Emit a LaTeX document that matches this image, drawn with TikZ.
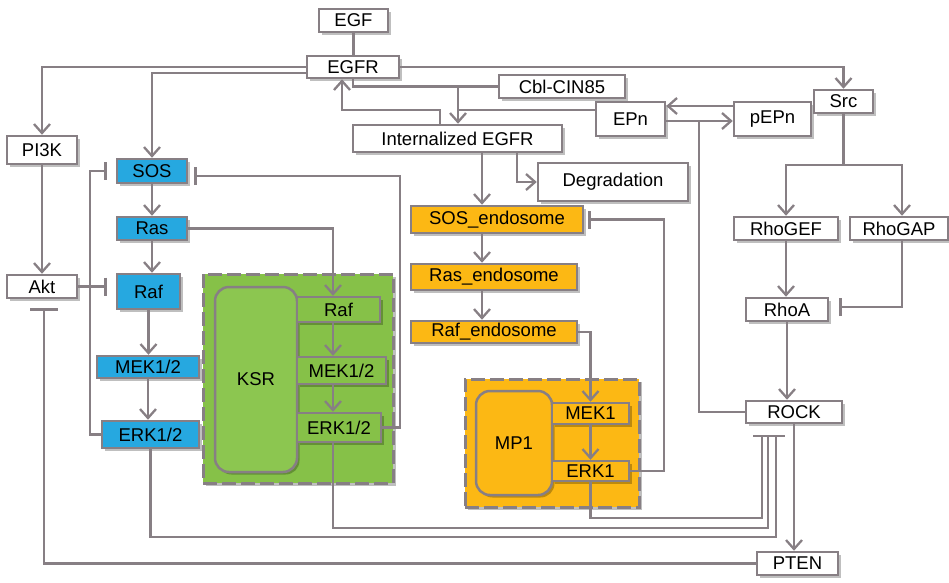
\documentclass[tikz,border=0pt]{standalone}
\usepackage{fontspec}
\setmainfont{Liberation Sans}
\usetikzlibrary{arrows.meta,shadows}
\definecolor{ln}{RGB}{135,127,132}
\definecolor{bl}{RGB}{38,168,224}
\definecolor{gr}{RGB}{134,193,72}
\definecolor{grk}{RGB}{140,198,80}
\definecolor{og}{RGB}{252,184,20}
\begin{document}
\begin{tikzpicture}[x=1pt,y=-1pt,
  shd/.style={drop shadow={shadow xshift=2.5pt,shadow yshift=-2.5pt,opacity=0.25,fill=black}},
  bx/.style={draw=ln,line width=2.5pt,inner sep=0pt,shd,font=\fontsize{18.5}{20}\selectfont},
  wbox/.style={bx,fill=white},
  bbox/.style={bx,fill=bl},
  gbox/.style={bx,fill=gr},
  obox/.style={bx,fill=og},
  cont/.style={draw=ln,line width=3pt,dash pattern=on 14pt off 5pt,inner sep=0pt,shd},
  lnk/.style={draw=ln,line width=2.3pt},
  arr/.style={lnk,-{Straight Barb[length=9pt,width=16pt,line width=2.3pt]}},
  inh/.style={lnk,-{Bar[width=18pt,line width=2.3pt]}},
  inhw/.style={lnk,-{Bar[width=28pt,line width=2.3pt]}}]
\useasboundingbox (0,0) rectangle (949,582);

% containers
\node[cont,fill=gr,minimum width=190pt,minimum height=209pt] (gcont) at (298,378.5) {};
\node[cont,fill=og,minimum width=174pt,minimum height=128pt] (ocont) at (552,443) {};

% top
\node[wbox,minimum width=69pt,minimum height=23pt] (EGF) at (353.5,20.5) {EGF};
\node[wbox,minimum width=92pt,minimum height=22pt] (EGFR) at (353,67) {EGFR};
\node[wbox,minimum width=70pt,minimum height=28pt] (PI3K) at (42,150) {PI3K};
\node[wbox,minimum width=70pt,minimum height=23pt] (Akt) at (42,286.5) {Akt};

% blue cascade
\node[bbox,minimum width=70pt,minimum height=24pt] (SOS) at (152,171) {SOS};
\node[bbox,minimum width=70pt,minimum height=23pt] (Ras) at (152,228.5) {Ras};
\node[bbox,minimum width=63pt,minimum height=35pt] (Raf) at (148.5,291.5) {Raf};
\node[bbox,minimum width=102pt,minimum height=22pt] (MEK) at (148,367) {MEK1/2};
\node[bbox,minimum width=97pt,minimum height=27pt] (ERK) at (150.5,434.5) {ERK1/2};

% green KSR
\node[gbox,fill=grk,rounded corners=14pt,minimum width=82pt,minimum height=185pt] (KSR) at (256,379.5) {KSR};
\node[gbox,minimum width=83pt,minimum height=25pt] (gRaf) at (338.5,309.5) {Raf};
\node[gbox,minimum width=89pt,minimum height=27pt] (gMEK) at (341.5,370.5) {MEK1/2};
\node[gbox,minimum width=84pt,minimum height=29pt] (gERK) at (339,427.5) {ERK1/2};

% middle
\node[wbox,minimum width=209pt,minimum height=27pt] (IntEGFR) at (457.5,138.5) {Internalized EGFR};
\node[wbox,minimum width=126pt,minimum height=23pt] (Cbl) at (562,86.5) {Cbl-CIN85};
\node[wbox,minimum width=69pt,minimum height=34pt] (EPn) at (630.5,119) {EPn};
\node[wbox,minimum width=77pt,minimum height=34pt] (pEPn) at (772.5,119) {pEPn};
\node[wbox,minimum width=59pt,minimum height=23pt] (Src) at (843.5,101.5) {Src};
\node[wbox,minimum width=150pt,minimum height=38pt] (Degr) at (613,182) {Degradation};
\node[obox,minimum width=172pt,minimum height=27pt] (SOSe) at (497,219.5) {SOS\_endosome};
\node[obox,minimum width=166pt,minimum height=26pt] (Rase) at (494,277) {Ras\_endosome};
\node[obox,minimum width=166pt,minimum height=22pt] (Rafe) at (494,332) {Raf\_endosome};

% orange MP1
\node[obox,rounded corners=14pt,minimum width=76pt,minimum height=104pt] (MP1) at (514,443) {MP1};
\node[obox,minimum width=77pt,minimum height=21pt] (MEK1) at (590.5,413.5) {MEK1};
\node[obox,minimum width=77pt,minimum height=20pt] (ERK1) at (590.5,471) {ERK1};

% right
\node[wbox,minimum width=104pt,minimum height=23pt] (RhoGEF) at (786,228.5) {RhoGEF};
\node[wbox,minimum width=98pt,minimum height=23pt] (RhoGAP) at (899,228.5) {RhoGAP};
\node[wbox,minimum width=82pt,minimum height=23pt] (RhoA) at (787,309.5) {RhoA};
\node[wbox,minimum width=96pt,minimum height=22pt] (ROCK) at (794,412) {ROCK};
\node[wbox,minimum width=81pt,minimum height=23pt] (PTEN) at (797.5,563.5) {PTEN};

% helper coordinates
\coordinate (j1) at (458,86.5);
\coordinate (j2) at (458,110);
\coordinate (r1) at (440,110);
\coordinate (r2) at (342,110);
\coordinate (cE) at (482,0);
\coordinate (cD) at (517,0);
\coordinate (cG) at (333,0);
\coordinate (c664) at (664,219.5);
\coordinate (b1) at (762,435);
\coordinate (b2) at (768,435);
\coordinate (b3) at (776,435);
\coordinate (s1) at (843.5,165);
\coordinate (gp) at (902,0);
\coordinate (p1) at (699,121);
\coordinate (q1) at (400,176);
\coordinate (q2) at (90,171);

% EGFR connections
\draw[lnk] (EGF.south) -- (EGF.south |- EGFR.north);
\draw[arr] (EGFR.west) -| (PI3K.north);
\draw[arr] ([yshift=-6pt]EGFR.west) -| (SOS.north);
\draw[arr] (EGFR.east) -| (Src.north);
\draw[lnk] (EGFR.south) |- (Cbl.west);
\draw[arr] (j1) -- (j1 |- IntEGFR.north);
\draw[lnk] ([yshift=9pt]EPn.west) -- (j2);
\draw[arr] (r1 |- IntEGFR.north) -- (r1) -- (r2) -- (r2 |- EGFR.south);

% endosome cascade
\draw[arr] (IntEGFR.south -| cE) -- (SOSe.north -| cE);
\draw[arr] (IntEGFR.south -| cD) |- (Degr.west);
\draw[arr] (SOSe.south -| cE) -- (Rase.north -| cE);
\draw[arr] (Rase.south -| cE) -- (Rafe.north -| cE);
\draw[arr] (Rafe.east) -| (MEK1.north);
\draw[arr] (MEK1.south) -- (ERK1.north);
\draw[inh] (ERK1.east) -| (c664) -- ([xshift=4pt]SOSe.east);

% ERK inhibitions of ROCK
\draw[inh] (ERK1.south) -- ++(0,36) -| (b1);
\draw[inh] (gERK.south -| cG) -- ++(0,85) -| (b2);
\draw[inh] (ERK.south) -- ++(0,88) -| (b3);

% ROCK, PTEN
\draw[arr] (ROCK.south) -- (ROCK.south |- PTEN.north);
\draw[inhw] (PTEN.west) -| ([xshift=2pt,yshift=-9pt]Akt.south);
\draw[lnk] (ROCK.west) -| (p1);

% Src branch
\draw[lnk] (Src.south) -- (s1);
\draw[arr] (s1) -| (RhoGEF.north);
\draw[arr] (s1) -| (RhoGAP.north -| gp);
\draw[arr] (RhoGEF.south) -- (RhoGEF.south |- RhoA.north);
\draw[inh] (RhoGAP.south -| gp) |- ([xshift=10pt,yshift=2.5pt]RhoA.east);
\draw[arr] (RhoA.south) -- (RhoA.south |- ROCK.north);

% EPn / pEPn
\draw[arr] ([yshift=13pt]pEPn.west) -- ([yshift=13pt]EPn.east);
\draw[arr] ([yshift=-2pt]EPn.east) -- ([yshift=-2pt]pEPn.west);

% left cascade
\draw[arr] (PI3K.south) -- (Akt.north);
\draw[inh,shorten >=9pt] (Akt.east) -- (Akt.east -| Raf.west);
\draw[arr] (SOS.south) -- (Ras.north);
\draw[arr] (Ras.south) -- (Ras.south |- Raf.north);
\draw[arr] (Raf.south) -- (Raf.south |- MEK.north);
\draw[arr] (MEK.south) -- (MEK.south |- ERK.north);
\draw[inh] (ERK.west) -| (q2) -- ([xshift=-9pt]SOS.west);
\draw[inh] (gERK.east) -| (q1) -- ([xshift=6pt,yshift=-5pt]SOS.east);

% KSR cascade
\draw[arr] (Ras.east) -| (gRaf.north -| cG);
\draw[arr] (gRaf.south -| cG) -- (gMEK.north -| cG);
\draw[arr] (gMEK.south -| cG) -- (gERK.north -| cG);
\end{tikzpicture}
\end{document}
